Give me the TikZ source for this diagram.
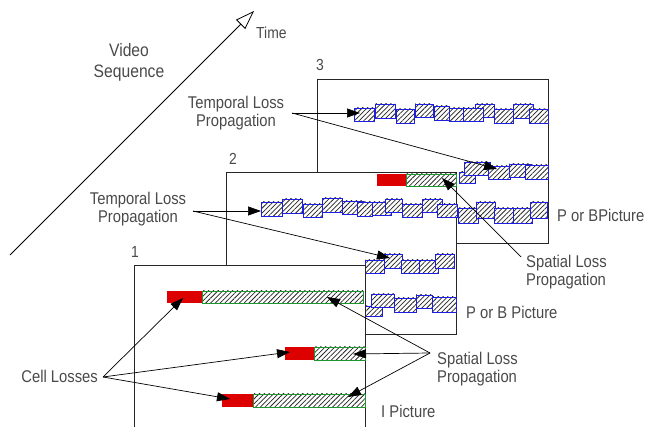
\documentclass[tikz,border=0pt]{standalone}
\usepackage{fontspec}
\setmainfont{Liberation Sans}[FakeStretch=0.87]
\usetikzlibrary{patterns,patterns.meta,arrows.meta}
\definecolor{lossred}{HTML}{DD0000}
\definecolor{bblue}{HTML}{1E1EE0}
\definecolor{bgreen}{HTML}{1E962E}
\definecolor{txt}{HTML}{4A4A4A}
\begin{document}
\begin{tikzpicture}[x=1pt,y=-1pt,
  framebox/.style={draw=black!85,line width=0.8pt,fill=white},
  hatch/.style={pattern={Lines[angle=45,distance=3.4pt,line width=0.75pt]},pattern color=black!85,preaction={fill=white}},
  blk/.style={hatch,draw=bblue,line width=0.9pt},
  spat/.style={hatch,draw=bgreen,line width=0.9pt},
  lossbar/.style={fill=lossred},
  arr/.style={draw=black,line width=0.7pt,-{Triangle[length=13pt,width=9pt]}},
  lbl/.style={text=txt,font=\fontsize{17}{18}\selectfont,inner sep=0pt,align=center},
  num/.style={text=txt,font=\fontsize{16}{18}\selectfont,inner sep=0pt}]
\useasboundingbox (0,0) rectangle (648,427);
\fill[white] (0,0) rectangle (648,427);

% ---------- Frame 3 ----------
\draw[framebox] (317,79) rectangle (548,243);
\node[num,anchor=south west] (n3) at (316,71) {3};
\foreach \a/\b/\c/\d in {354/108/374/121,375/104/395/118,396/109/414/123,415/104/433/117,434/106/449/120,449/108/463/121,475/104/494/117,463/108/483/121,494/109/513/123,513/104/533/118,529/109/548/123}
  \draw[blk] (\a,\b) rectangle (\c,\d);
\foreach \a/\b/\c/\d in {459/172/475/183,464/162/490/175,488/166/510/179,509/164/530/177,525/165/548/179}
  \draw[blk] (\a,\b) rectangle (\c,\d);
\foreach \a/\b/\c/\d in {458/208/478/223,476/202/495/218,494/208/513/223,513/208/532/223,530/202/547/218}
  \draw[blk] (\a,\b) rectangle (\c,\d);

% ---------- Frame 2 ----------
\draw[framebox] (226,172) rectangle (456,334);
\node[num,anchor=south west] (n2) at (229,165) {2};
\fill[lossbar] (377,174) rectangle (406,186);
\draw[spat] (406,174) rectangle (456,186);
\foreach \a/\b/\c/\d in {261/202/282/216,282/199/302/213,303/204/322/217,322/198/342/212,342/201/363/214,357/202/372/216,372/202/391/215,385/199/402/212,402/204/422/217,422/199/442/212,437/204/457/217}
  \draw[blk] (\a,\b) rectangle (\c,\d);
\foreach \a/\b/\c/\d in {365/260/384/273,384/254/402/268,401/260/419/273,419/260/438/273,435/254/454/268}
  \draw[blk] (\a,\b) rectangle (\c,\d);
\foreach \a/\b/\c/\d in {365/306/382/316,371/294/394/307,394/298/416/312,416/295/432/308,432/297/456/312}
  \draw[blk] (\a,\b) rectangle (\c,\d);

% ---------- Frame 1 ----------
\fill[white] (134,265) rectangle (365,427);
\draw[black!85,line width=0.8pt] (134,428) -- (134,265) -- (365,265) -- (365,428);
\node[num,anchor=south west] (n1) at (131,258) {1};
\fill[lossbar] (167,291) rectangle (202,303);
\draw[spat] (202,291) rectangle (363,303);
\fill[lossbar] (285,347) rectangle (314,360);
\draw[spat] (314,347) rectangle (365,360);
\fill[lossbar] (222,394) rectangle (253,407);
\draw[spat] (253,394) rectangle (365,407);

% ---------- Time axis ----------
\coordinate (t0) at (10,255);
\coordinate (t1) at (254,11);
\draw[line width=0.8pt,-{Triangle[open,length=19pt,width=13pt]}] (t0) -- (t1);
\node[lbl,anchor=west,font=\fontsize{16}{18}\selectfont] (time) at (256,33) {Time};
\node[lbl,font=\fontsize{18}{21}\selectfont] (vs) at (129,62) {Video\\Sequence};

% ---------- Labels and connectors ----------
\node[lbl] (tl3) at (236,113) {Temporal Loss\\Propagation};
\coordinate (tl3a) at (292,113);
\coordinate (tl3t1) at (360,113);
\coordinate (tl3t2) at (497,169);
\draw[arr] (tl3a) -- (tl3t1);
\draw[arr] (tl3a) -- (tl3t2);

\node[lbl] (tl2) at (138,209) {Temporal Loss\\Propagation};
\coordinate (tl2a) at (193,211);
\coordinate (tl2t1) at (261,211);
\coordinate (tl2t2) at (390,258);
\draw[arr] (tl2a) -- (tl2t1);
\draw[arr] (tl2a) -- (tl2t2);

\node[lbl,align=left,anchor=west] (sl3) at (526,272) {Spatial Loss\\Propagation};
\coordinate (sl3a) at (521,257);
\coordinate (sl3t) at (442,178);
\draw[arr] (sl3a) -- (sl3t);

\node[lbl,align=left,anchor=west] (sl1) at (437,369) {Spatial Loss\\Propagation};
\coordinate (sl1a) at (430,353);
\coordinate (sl1t1) at (327,297);
\coordinate (sl1t2) at (353,354);
\coordinate (sl1t3) at (348,397);
\draw[arr] (sl1a) -- (sl1t1);
\draw[arr] (sl1a) -- (sl1t2);
\draw[arr] (sl1a) -- (sl1t3);

\node[lbl,anchor=east] (cl) at (98,376) {Cell Losses};
\coordinate (cla) at (103,377);
\coordinate (clt1) at (183,298);
\coordinate (clt2) at (290,352);
\coordinate (clt3) at (230,399);
\draw[arr] (cla) -- (clt1);
\draw[arr] (cla) -- (clt2);
\draw[arr] (cla) -- (clt3);

\node[lbl,anchor=west] (pb3) at (557,215) {P or BPicture};
\node[lbl,anchor=west] (pb2) at (466,312) {P or B Picture};
\node[lbl,anchor=west] (ip) at (381,411) {I Picture};
\end{tikzpicture}
\end{document}
